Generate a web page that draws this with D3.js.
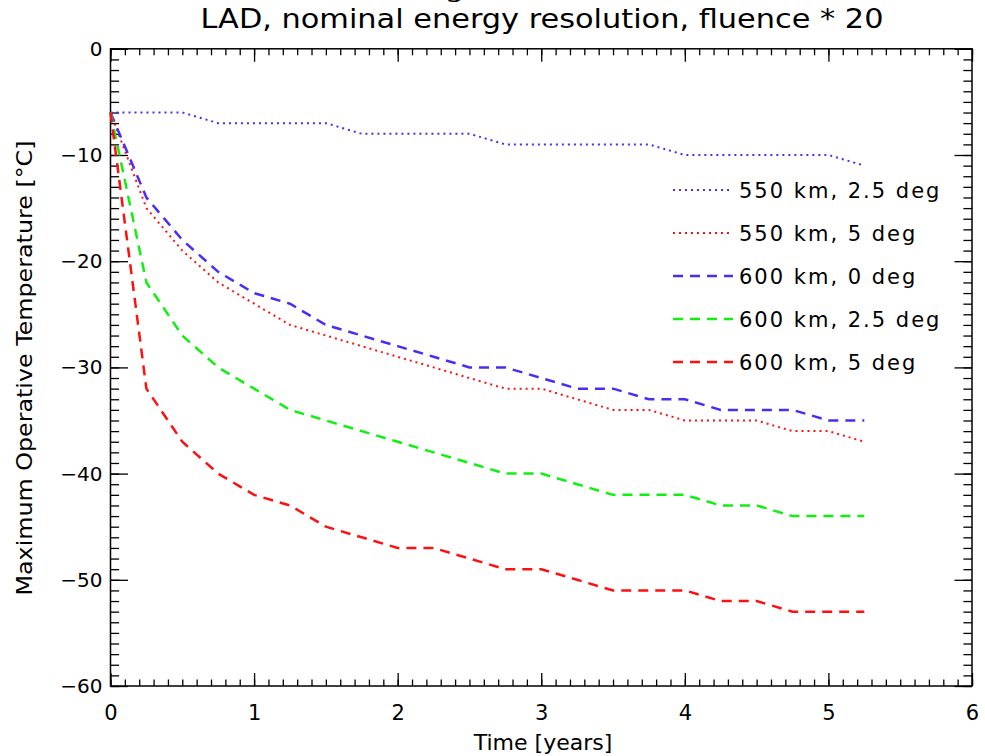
<!DOCTYPE html>
<html>
<head>
<meta charset="utf-8">
<script src="https://cdn.jsdelivr.net/npm/d3@7"></script>
<style>
  body { margin: 0; background: #fff; }
  text { font-family: "DejaVu Sans", sans-serif; fill: #000; }
</style>
</head>
<body>
<div class="js-chart"></div>
<script>
'use strict';

// time samples, every quarter year
const years = [0, 0.25, 0.5, 0.75, 1, 1.25, 1.5, 1.75, 2, 2.25, 2.5, 2.75,
               3, 3.25, 3.5, 3.75, 4, 4.25, 4.5, 4.75, 5, 5.25];

// max operative temperature [C] per configuration
const temp550km25deg = [-6, -6, -6, -7, -7, -7, -7, -8, -8, -8, -8, -9,
                        -9, -9, -9, -9, -10, -10, -10, -10, -10, -11];
const temp550km5deg  = [-6, -15, -19, -22, -24, -26, -27, -28, -29, -30, -31, -32,
                        -32, -33, -34, -34, -35, -35, -35, -36, -36, -37];
const temp600km0deg  = [-6, -14, -18, -21, -23, -24, -26, -27, -28, -29, -30, -30,
                        -31, -32, -32, -33, -33, -34, -34, -34, -35, -35];
const temp600km25deg = [-6, -22, -27, -30, -32, -34, -35, -36, -37, -38, -39, -40,
                        -40, -41, -42, -42, -42, -43, -43, -44, -44, -44];
const temp600km5deg  = [-6, -32, -37, -40, -42, -43, -45, -46, -47, -47, -48, -49,
                        -49, -50, -51, -51, -51, -52, -52, -53, -53, -53];

const seriesLabels = ['550 km, 2.5 deg', '550 km, 5 deg', '600 km, 0 deg',
                      '600 km, 2.5 deg', '600 km, 5 deg'];
const seriesValues = [temp550km25deg, temp550km5deg, temp600km0deg,
                      temp600km25deg, temp600km5deg];

const xTicks = [0, 1, 2, 3, 4, 5, 6];
const yTicks = [0, -10, -20, -30, -40, -50, -60];

const BLUE = '#4a2cf5';
const RED = '#ff1010';
const GREEN = '#10f010';
const DOTTED = '2,4';
const DASHED = '10,7';

const seriesStyles = [
	{ color: BLUE,  dash: DOTTED, width: 2 },
	{ color: RED,   dash: DOTTED, width: 2 },
	{ color: BLUE,  dash: DASHED, width: 2.5 },
	{ color: GREEN, dash: DASHED, width: 2.5 },
	{ color: RED,   dash: DASHED, width: 2.5 }
];

function drawChart() {

	let svgWidth = 985;
	let svgHeight = 756;
	let left = 110.5, right = 972, top = 48.8, bottom = 686;

	const xScale = d3.scaleLinear().domain([0, 6]).range([left, right]);
	const yScale = d3.scaleLinear().domain([-60, 0]).range([bottom, top]);

	let svg = d3.select('.js-chart')
				.append('svg')
				.attr('width', svgWidth)
				.attr('height', svgHeight);

	// clipped-off line of a bigger title above the plot (cut at the top edge in the original too)
	svg.append('text')
		.attr('x', 446)
		.attr('y', -3)
		.style('font-family', '"DejaVu Serif", serif')
		.style('font-weight', 'bold')
		.style('font-size', '26px')
		.text('g');

	svg.append('text')
		.attr('x', 542)
		.attr('y', 28)
		.attr('text-anchor', 'middle')
		.attr('textLength', 683)
		.attr('lengthAdjust', 'spacingAndGlyphs')
		.style('font-size', '26px')
		.text('LAD, nominal energy resolution, fluence * 20');

	// ticks: major with labels, minor without, on all four sides (inward)
	const minorX = d3.range(0, 61).map(d => d / 10);
	const minorY = d3.range(-60, 1);
	const fmt = d => d < 0 ? '\u2212' + Math.abs(d) : String(d);

	const axes = svg.append('g').attr('class', 'axes');

	axes.append('g')
		.attr('transform', `translate(0,${bottom})`)
		.call(d3.axisBottom(xScale).tickValues(minorX).tickSize(-6.5).tickFormat(''));
	axes.append('g')
		.attr('transform', `translate(0,${bottom})`)
		.call(d3.axisBottom(xScale).tickValues(xTicks).tickSize(-13).tickPadding(19).tickFormat(fmt))
		.selectAll('text').style('font-size', '21px');

	axes.append('g')
		.attr('transform', `translate(0,${top})`)
		.call(d3.axisTop(xScale).tickValues(minorX).tickSize(-6.5).tickFormat(''));
	axes.append('g')
		.attr('transform', `translate(0,${top})`)
		.call(d3.axisTop(xScale).tickValues(xTicks).tickSize(-13).tickFormat(''));

	axes.append('g')
		.attr('transform', `translate(${left},0)`)
		.call(d3.axisLeft(yScale).tickValues(minorY).tickSize(-8.6).tickFormat(''));
	axes.append('g')
		.attr('transform', `translate(${left},0)`)
		.call(d3.axisLeft(yScale).tickValues(yTicks).tickSize(-17.5).tickPadding(8).tickFormat(fmt))
		.selectAll('text').style('font-size', '20px');

	axes.append('g')
		.attr('transform', `translate(${right},0)`)
		.call(d3.axisRight(yScale).tickValues(minorY).tickSize(-8.6).tickFormat(''));
	axes.append('g')
		.attr('transform', `translate(${right},0)`)
		.call(d3.axisRight(yScale).tickValues(yTicks).tickSize(-17.5).tickFormat(''));

	axes.selectAll('.domain').remove();
	axes.selectAll('line').attr('stroke', '#000').attr('stroke-width', 1.3);

	svg.append('rect')
		.attr('x', left)
		.attr('y', top)
		.attr('width', right - left)
		.attr('height', bottom - top)
		.attr('fill', 'none')
		.attr('stroke', '#000')
		.attr('stroke-width', 1.5);

	// curves
	const line = d3.line()
		.x((d, i) => xScale(years[i]))
		.y(d => yScale(d));

	svg.append('g')
		.selectAll('path')
		.data(seriesValues)
		.enter()
		.append('path')
		.attr('d', d => line(d))
		.attr('fill', 'none')
		.attr('stroke', (d, i) => seriesStyles[i].color)
		.attr('stroke-dasharray', (d, i) => seriesStyles[i].dash)
		.attr('stroke-width', (d, i) => seriesStyles[i].width);

	// legend
	let legendX = 673, legendY = 190, rowGap = 43;
	const legend = svg.append('g')
		.selectAll('g')
		.data(seriesLabels)
		.enter()
		.append('g')
		.attr('transform', (d, i) => `translate(${legendX},${legendY + i * rowGap})`);

	legend.append('line')
		.attr('x1', 0).attr('x2', 60)
		.attr('y1', 0).attr('y2', 0)
		.attr('stroke', (d, i) => seriesStyles[i].color)
		.attr('stroke-dasharray', (d, i) => seriesStyles[i].dash)
		.attr('stroke-width', (d, i) => seriesStyles[i].width);

	legend.append('text')
		.attr('x', 66)
		.attr('y', 0)
		.attr('dy', '0.36em')
		.style('font-size', '21px')
		.style('letter-spacing', '2px')
		.text(d => d);

	// axis titles
	svg.append('text')
		.attr('x', 543)
		.attr('y', 750)
		.attr('text-anchor', 'middle')
		.style('font-size', '22px')
		.text('Time [years]');

	svg.append('text')
		.attr('transform', 'translate(32,368) rotate(-90)')
		.attr('text-anchor', 'middle')
		.attr('textLength', 455)
		.attr('lengthAdjust', 'spacingAndGlyphs')
		.style('font-size', '21px')
		.text('Maximum Operative Temperature [\u00b0C]');
}

drawChart();
</script>
</body>
</html>
